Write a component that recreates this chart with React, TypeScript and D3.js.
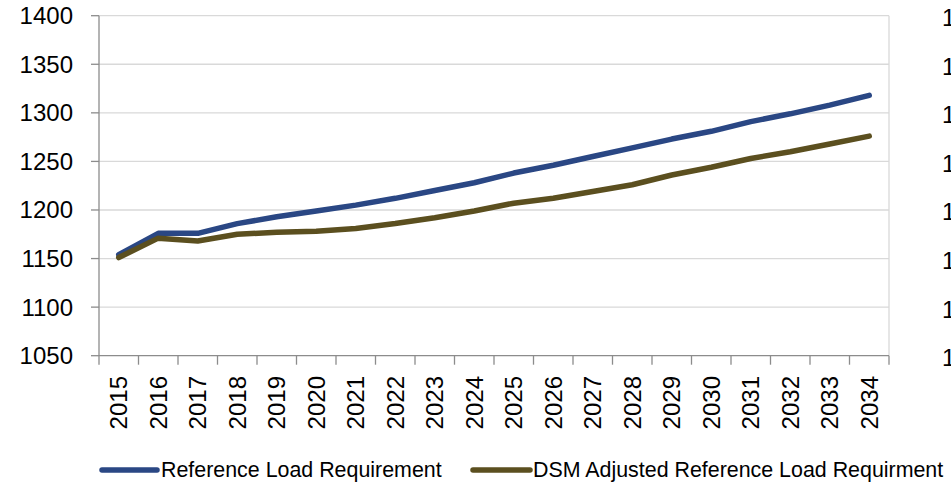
import React, { useEffect, useRef } from "react";
import * as d3 from "d3";

const years = ["2015","2016","2017","2018","2019","2020","2021","2022","2023","2024","2025","2026","2027","2028","2029","2030","2031","2032","2033","2034"];
const referenceLoad = [1154, 1176, 1176, 1186, 1193, 1199, 1205, 1212, 1220, 1228, 1238, 1246, 1255, 1264, 1273, 1281, 1291, 1299, 1308, 1318];
const dsmAdjusted = [1151, 1171, 1168, 1175, 1177, 1178, 1181, 1186, 1192, 1199, 1207, 1212, 1219, 1226, 1236, 1244, 1253, 1260, 1268, 1276];
const yTicks = [1050, 1100, 1150, 1200, 1250, 1300, 1350, 1400];
const seriesNames = ["Reference Load Requirement", "DSM Adjusted Reference Load Requirment"];
const seriesColors = ["#2A4784", "#5B4F1F"];

const W = 951, H = 491;
const left = 99, right = 889, top = 15.7, bottom = 355.7;
const FONT = "'Liberation Sans', Arial, sans-serif";

export default function App() {
  const ref = useRef<SVGSVGElement>(null);
  useEffect(() => {
    const svg = d3.select(ref.current);
    svg.selectAll("*").remove();
    const x = d3.scaleBand().domain(years).range([left, right]).padding(0);
    const y = d3.scaleLinear().domain([1050, 1400]).range([bottom, top]);

    // gridlines
    svg.append("g").selectAll("line").data(yTicks.filter(t => t > 1050)).join("line")
      .attr("x1", left).attr("x2", right)
      .attr("y1", d => y(d)).attr("y2", d => y(d))
      .attr("stroke", "#D9D9D9").attr("stroke-width", 1.3);
    // right border
    svg.append("line").attr("x1", right).attr("x2", right).attr("y1", top).attr("y2", bottom)
      .attr("stroke", "#D9D9D9").attr("stroke-width", 1.3);

    // y axis
    const ya = svg.append("g");
    ya.append("line").attr("x1", left).attr("x2", left).attr("y1", top).attr("y2", bottom)
      .attr("stroke", "#8C8C8C").attr("stroke-width", 1.3);
    ya.selectAll("line.t").data(yTicks).join("line").attr("class", "t")
      .attr("x1", left - 8).attr("x2", left).attr("y1", d => y(d)).attr("y2", d => y(d))
      .attr("stroke", "#8C8C8C").attr("stroke-width", 1.3);
    ya.selectAll("text").data(yTicks).join("text")
      .attr("x", 73).attr("y", d => y(d)).attr("dy", "0.35em")
      .attr("text-anchor", "end").attr("font-family", FONT).attr("font-size", 24).attr("fill", "#000")
      .text(d => d);

    // cut-off right axis labels (neighbouring chart, cropped in the reference)
    svg.append("g").selectAll("text").data(yTicks).join("text")
      .attr("x", 942).attr("y", d => y(d) + 2).attr("dy", "0.35em")
      .attr("font-family", FONT).attr("font-size", 24).attr("fill", "#000")
      .text(d => d);

    // x axis
    const xa = svg.append("g");
    xa.append("line").attr("x1", left).attr("x2", right).attr("y1", bottom).attr("y2", bottom)
      .attr("stroke", "#8C8C8C").attr("stroke-width", 1.3);
    const tickPos = years.map(yr => x(yr)!).concat([right]);
    xa.selectAll("line.t").data(tickPos).join("line").attr("class", "t")
      .attr("x1", d => d).attr("x2", d => d).attr("y1", bottom).attr("y2", bottom + 9)
      .attr("stroke", "#8C8C8C").attr("stroke-width", 1.3);
    xa.selectAll("text").data(years).join("text")
      .attr("transform", d => `translate(${x(d)! + x.bandwidth() / 2},376) rotate(-90)`)
      .attr("dy", "0.35em").attr("text-anchor", "end")
      .attr("font-family", FONT).attr("font-size", 24).attr("fill", "#000")
      .text(d => d);

    // lines
    const line = d3.line<number>()
      .x((_, i) => x(years[i])! + x.bandwidth() / 2)
      .y(d => y(d));
    [referenceLoad, dsmAdjusted].forEach((s, i) => {
      svg.append("path").datum(s).attr("d", line)
        .attr("fill", "none").attr("stroke", seriesColors[i]).attr("stroke-width", 5.5)
        .attr("stroke-linejoin", "round").attr("stroke-linecap", "round");
    });

    // legend
    const legendItems = [
      { x1: 102, x2: 157, tx: 161 },
      { x1: 473, x2: 530, tx: 533 },
    ];
    const lg = svg.append("g");
    legendItems.forEach((it, i) => {
      lg.append("line").attr("x1", it.x1).attr("x2", it.x2).attr("y1", 470).attr("y2", 470)
        .attr("stroke", seriesColors[i]).attr("stroke-width", 5.5).attr("stroke-linecap", "round");
      lg.append("text").attr("x", it.tx).attr("y", 477)
        .attr("font-family", FONT).attr("font-size", 21.4).attr("fill", "#000")
        .text(seriesNames[i]);
    });
  }, []);
  return (
    <svg ref={ref} width={W} height={H}
      style={{ position: "absolute", left: 0, top: 0, background: "#fff", display: "block" }} />
  );
}
